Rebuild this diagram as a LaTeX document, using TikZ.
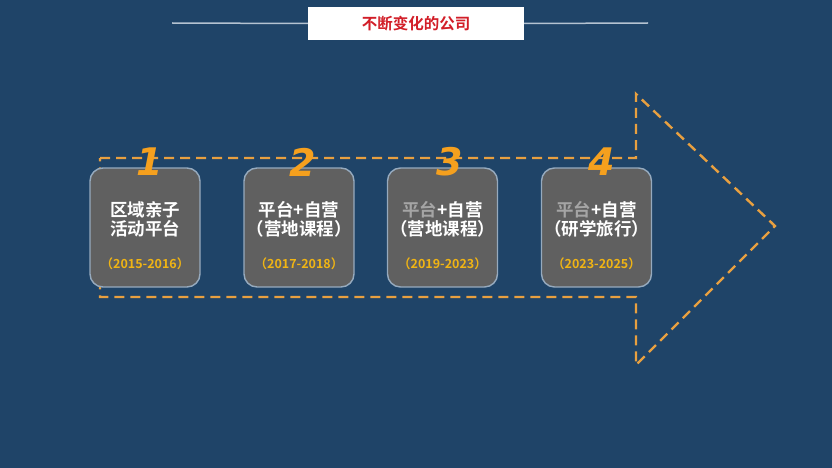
\documentclass[tikz,border=0pt]{standalone}
\usepackage{fontspec}
\setmainfont{Liberation Sans}
\newfontfamily\cjk{Noto Sans CJK SC}[BoldFont={* Bold}]
\newfontfamily\numfont{DejaVu Sans}
\usepackage{tikz}

\definecolor{bgblue}{RGB}{31,68,104}
\definecolor{cardgray}{RGB}{96,96,96}
\definecolor{cardedge}{RGB}{150,170,190}
\definecolor{dashorange}{RGB}{232,160,64}
\definecolor{numorange}{RGB}{245,160,30}
\definecolor{yeargold}{RGB}{240,180,20}
\definecolor{titlered}{RGB}{210,30,40}
\definecolor{dimgray}{RGB}{165,165,165}

\begin{document}
\begin{tikzpicture}[x=1pt,y=-1pt,
  card/.style={draw=cardedge, line width=1.4pt, fill=cardgray, rounded corners=13pt,
    minimum width=110pt, minimum height=119pt, inner sep=0pt},
  cardtext/.style={text=white, align=center, font=\cjk\bfseries\fontsize{17.5}{19}\selectfont},
  yeartext/.style={text=yeargold, font=\cjk\bfseries\fontsize{12.5}{13}\selectfont},
  stagenum/.style={text=numorange, font=\numfont\bfseries\itshape\fontsize{38}{38}\selectfont},
  arrowline/.style={draw=dashorange, line width=2.4pt, dash pattern=on 10pt off 6pt},
  ruleline/.style={draw=cardedge!70!white, line width=1.5pt}]

  \fill[bgblue] (0,0) rectangle (832,468);
  \useasboundingbox (0,0) rectangle (832,468);

  % title
  \node[fill=white, minimum width=216pt, minimum height=33pt, inner sep=0pt,
    text=titlered, font=\cjk\bfseries\fontsize{15.5}{16}\selectfont] (title) at (416,23.5) {不断变化的公司};
  \coordinate (ruleL) at (172,23);
  \coordinate (ruleR) at (648,23);
  \draw[ruleline] (ruleL) -- (title.west);
  \draw[ruleline] (title.east) -- (ruleR);

  % dashed arrow outline
  \draw[arrowline] (100,158) -- (636,158) -- (636,94) -- (775,226)
    -- (636,365) -- (636,297) -- (100,297) -- cycle;

  % stages
  \node[card] (b1) at (145,227.5) {};
  \node[card] (b2) at (299,227.5) {};
  \node[card] (b3) at (442.5,227.5) {};
  \node[card] (b4) at (596.5,227.5) {};

  \node[cardtext] (t1) at ([yshift=8pt]b1.center) {区域亲子\\活动平台};
  \node[cardtext] (t2) at ([yshift=8pt]b2.center) {平台+自营\\（营地课程）};
  \node[cardtext] (t3) at ([yshift=8pt]b3.center) {\textcolor{dimgray}{平台}+自营\\（营地课程）};
  \node[cardtext] (t4) at ([yshift=8pt]b4.center) {\textcolor{dimgray}{平台}+自营\\（研学旅行）};

  \node[yeartext] (y1) at ([yshift=-36pt]b1.center) {（2015-2016）};
  \node[yeartext] (y2) at ([yshift=-36pt]b2.center) {（2017-2018）};
  \node[yeartext] (y3) at ([yshift=-36pt]b3.center) {（2019-2023）};
  \node[yeartext] (y4) at ([yshift=-36pt]b4.center) {（2023-2025）};

  \node[stagenum] (n1) at (150,162) {1};
  \node[stagenum] (n2) at (303,162) {2};
  \node[stagenum] (n3) at (450,162) {3};
  \node[stagenum] (n4) at (602,162) {4};
\end{tikzpicture}
\end{document}
